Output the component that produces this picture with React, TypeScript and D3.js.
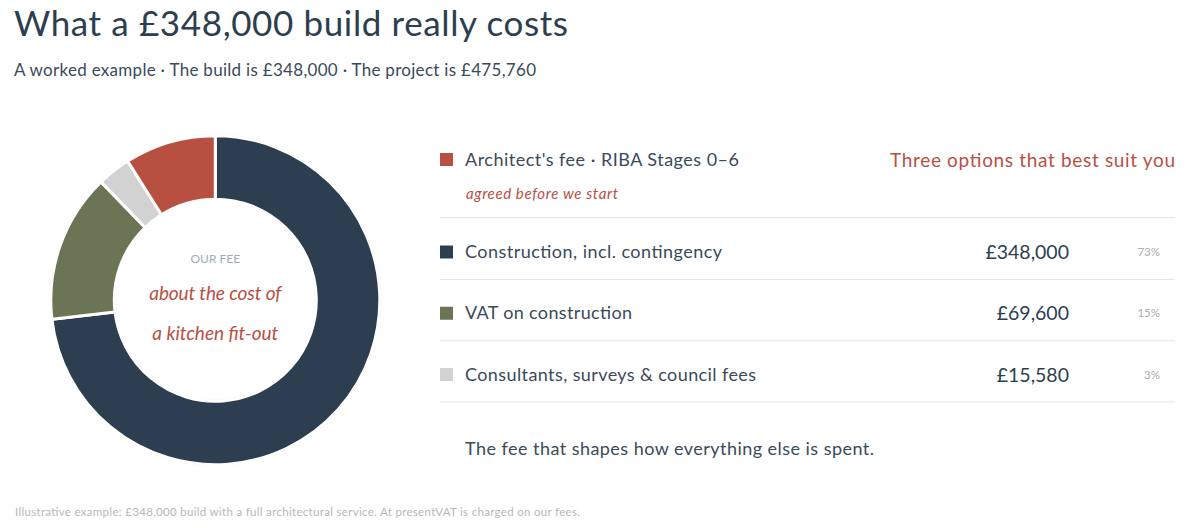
import * as d3 from 'd3';
import React from 'react';

const WIDTH = 1186;
const HEIGHT = 528;

// donut slices, clockwise from 12 o'clock
const sliceNames = ['Construction', 'VAT', 'Consultants', 'Fee'];
const sliceValues = [348000, 69600, 15580, 42580];
const sliceColors = ['#2c3e50', '#6b7556', '#d2d2d2', '#b85042'];

// table rows
const rowLabels = [
  'Construction, incl. contingency',
  'VAT on construction',
  'Consultants, surveys & council fees',
];
const rowValues = [348000, 69600, 15580];
const rowColors = ['#2c3e50', '#6b7556', '#d2d2d2'];
const rowLabelWidths = [257, 167, 291];

const SANS = 'Lato, "Open Sans", sans-serif';
const NAVY = '#2c3e50';
const SOFT_NAVY = '#3a4a5a';
const RED = '#b85042';

const App: React.FC = () => {
  const total = d3.sum(sliceValues);
  const pie = d3
    .pie<number>()
    .sort(null)
    .value((d) => d);
  const arc = d3
    .arc<d3.PieArcDatum<number>>()
    .innerRadius(101)
    .outerRadius(164.5);
  const arcs = pie(sliceValues);

  const rowY = d3
    .scalePoint<string>()
    .domain(rowLabels)
    .range([252, 374.5]);
  const money = (v: number) => '£' + d3.format(',')(v);
  const pct = d3.format('.0%');

  return (
    <svg
      width={WIDTH}
      height={HEIGHT}
      style={{ position: 'absolute', left: 0, top: 0, background: 'white' }}
      fontFamily={SANS}
    >
      <text x={14} y={36} fontSize={35} fill={NAVY} textLength={554}>
        What a £348,000 build really costs
      </text>
      <text x={14} y={76} fontSize={17} fill={SOFT_NAVY} textLength={522}>
        A worked example · The build is £348,000 · The project is £475,760
      </text>

      <g transform='translate(215.3,300.2)'>
        <circle r={165.5} fill='none' stroke='#e6e6e6' strokeWidth={1} />
        <circle r={100} fill='none' stroke='#e6e6e6' strokeWidth={1} strokeDasharray='3 2' />
        {arcs.map((a, i) => (
          <path
            key={sliceNames[i]}
            d={arc(a) ?? ''}
            fill={sliceColors[i]}
            stroke='white'
            strokeWidth={3}
          />
        ))}
        <text y={-37.5} textAnchor='middle' fontSize={12} fill='#a3abb4'>
          OUR FEE
        </text>
        <text
          y={0}
          textAnchor='middle'
          fontSize={19}
          fontStyle='italic'
          fill={RED}
          textLength={132}
        >
          about the cost of
        </text>
        <text
          y={40}
          textAnchor='middle'
          fontSize={19}
          fontStyle='italic'
          fill={RED}
          textLength={126}
        >
          a kitchen fit-out
        </text>
      </g>

      <rect x={440} y={153} width={13} height={13} fill={RED} />
      <text x={465} y={166} fontSize={18} fill={SOFT_NAVY} textLength={274}>
        Architect's fee · RIBA Stages 0–6
      </text>
      <text x={1175} y={167} fontSize={19} fill={RED} textAnchor='end' textLength={285}>
        Three options that best suit you
      </text>
      <text x={466} y={199} fontSize={15} fontStyle='italic' fill={RED} textLength={152}>
        agreed before we start
      </text>
      <line x1={440} x2={1175} y1={217.5} y2={217.5} stroke='#e6e6e6' />

      {rowLabels.map((label, i) => {
        const y = rowY(label) ?? 0;
        return (
          <g key={label}>
            <rect x={440} y={y - 6.5} width={13} height={13} fill={rowColors[i]} />
            <text
              x={465}
              y={y + 6}
              fontSize={18}
              fill={SOFT_NAVY}
              textLength={rowLabelWidths[i]}
            >
              {label}
            </text>
            <text x={1069} y={y + 7} fontSize={19.5} fill={NAVY} textAnchor='end'>
              {money(rowValues[i])}
            </text>
            <text x={1160} y={y + 4} fontSize={11.5} fill='#a8adb3' textAnchor='end'>
              {pct(rowValues[i] / total)}
            </text>
            <line
              x1={440}
              x2={1175}
              y1={y + 27.5}
              y2={y + 27.5}
              stroke='#e6e6e6'
            />
          </g>
        );
      })}

      <text x={465} y={455} fontSize={18} fill={SOFT_NAVY} textLength={409}>
        The fee that shapes how everything else is spent.
      </text>
      <text x={15} y={516} fontSize={11.5} fill='#b4b8bd' textLength={565}>
        Illustrative example: £348,000 build with a full architectural service. At presentVAT is charged on our fees.
      </text>
    </svg>
  );
};

export default App;
